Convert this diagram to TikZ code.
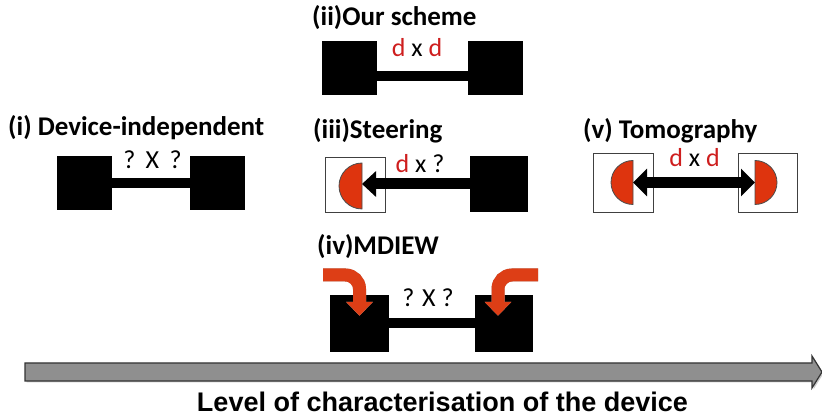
\documentclass[tikz,border=0pt]{standalone}
\usepackage{fontspec}
\setmainfont{Carlito}
\newfontfamily\axisfont{Liberation Sans}
\usetikzlibrary{positioning,arrows.meta}
\definecolor{dimred}{RGB}{206,30,30}
\definecolor{detred}{RGB}{222,52,14}
\definecolor{pushred}{RGB}{221,62,22}
\definecolor{axisgray}{RGB}{143,143,143}
\tikzset{
  blk/.style={fill=black, inner sep=0, minimum width=55, minimum height=54},
  wbox/.style={draw=black!75, line width=0.8, fill=white, inner sep=0,
               minimum width=60, minimum height=58},
  bar/.style={line width=10},
  heading/.style={anchor=base west, inner sep=0,
                  font=\fontsize{27}{30}\selectfont\bfseries},
  dims/.style={anchor=base, inner sep=0, font=\fontsize{26}{30}\selectfont},
  probe/.style={line width=11, -{Triangle[width=25pt,length=14pt]}},
  twoway/.style={line width=11, {Triangle[width=27pt,length=14pt]}-{Triangle[width=27pt,length=14pt]}},
  detector/.style={fill=detred, draw=black!70, line width=0.8},
  push/.style={line width=13, rounded corners=14,
               -{Triangle[width=26pt,length=14pt]}},
}
\newcommand{\dd}{\textcolor{dimred}{d}}
\newcommand{\gap}{\hspace{0.4em}}

\begin{document}
\begin{tikzpicture}[x=1pt, y=-1pt]
  \useasboundingbox (0,0) rectangle (822,419);

  % (i) device independent
  \node[heading] (t1) at (8,136) {(i) Device-independent};
  \node[blk] (a1) at (84,183.5) {};
  \node[blk] (b1) at (217.5,183.5) {};
  \draw[bar] (a1) -- (b1);
  \node[dims] (l1) at (152.5,169) {?\gap X\gap ?};

  % (ii) our scheme
  \node[heading] (t2) at (312,26) {(ii)Our scheme};
  \node[blk] (a2) at (349,68.5) {};
  \node[blk] (b2) at (495.5,68.5) {};
  \draw[bar] ([yshift=-7.5pt]a2.east) -- ([yshift=-7.5pt]b2.west);
  \node[dims] (l2) at (417,57) {\dd\ x \dd};

  % (iii) steering
  \node[heading] (t3) at (313,139) {(iii)Steering};
  \node[wbox, minimum height=55] (w3) at (355,184.5) {};
  \node[blk, minimum width=58, minimum height=56] (b3) at (499,184) {};
  \coordinate (h3) at ([xshift=7pt,yshift=-1.5pt]w3.center);
  \draw[detector] ([yshift=23pt]h3) arc[start angle=270, end angle=90, radius=23] -- cycle;
  \draw[probe] (b3.west) -- (b3.west -| h3);
  \node[dims] (l3) at (420,173) {\dd\ x ?};

  % (v) tomography
  \node[heading] (t5) at (583,139) {(v) Tomography};
  \node[wbox, minimum height=59] (w5a) at (623,182.5) {};
  \node[wbox, minimum width=59, minimum height=59] (w5b) at (767.5,182.5) {};
  \coordinate (h5a) at ([xshift=10pt]w5a.center);
  \coordinate (h5b) at ([xshift=-12.5pt]w5b.center);
  \draw[detector] ([yshift=22pt]h5a) arc[start angle=270, end angle=90, radius=22] -- cycle;
  \draw[detector] ([yshift=22pt]h5b) arc[start angle=270, end angle=450, radius=22] -- cycle;
  \draw[twoway] (h5a) -- (h5b);
  \node[dims] (l5) at (694.5,167) {\dd\ x \dd};

  % (iv) MDIEW
  \node[heading] (t4) at (317,255) {(iv)MDIEW};
  \node[blk, minimum width=59, minimum height=57] (a4) at (359.5,323.5) {};
  \node[blk, minimum width=58, minimum height=57] (b4) at (504,323.5) {};
  \draw[bar] (a4) -- (b4);
  \node[dims] (l4) at (428,307) {? X ?};
  \coordinate (s4a) at (323,275);
  \coordinate (s4b) at (538,275);
  \coordinate (e4a) at ([yshift=-21pt]a4.north);
  \coordinate (e4b) at ([xshift=-6pt,yshift=-21pt]b4.north);
  \begin{scope}[xshift=1.5pt, yshift=-1.5pt]
    \draw[push, black!30] (s4a) -| (e4a);
    \draw[push, black!30] (s4b) -| (e4b);
  \end{scope}
  \draw[push, pushred] (s4a) -| (e4a);
  \draw[push, pushred] (s4b) -| (e4b);

  % axis
  \coordinate (ax0) at (25,363);
  \fill[black!20] ([xshift=1.5pt,yshift=-1.5pt]ax0) -- ++(787,0) -- ++(0,-7) -- ++(10,16)
    -- ++(-10,16) -- ++(0,-7) -- ++(-787,0) -- cycle;
  \draw[fill=axisgray, draw=black!80, line width=1.2] (ax0) -- ++(787,0) -- ++(0,-7)
    -- ++(10,16) -- ++(-10,16) -- ++(0,-7) -- ++(-787,0) -- cycle;
  \node[inner sep=0] (axl) at (442.5,401.5)
    {\resizebox{491pt}{19.5pt}{\axisfont\bfseries Level of characterisation of the device}};
\end{tikzpicture}
\end{document}
